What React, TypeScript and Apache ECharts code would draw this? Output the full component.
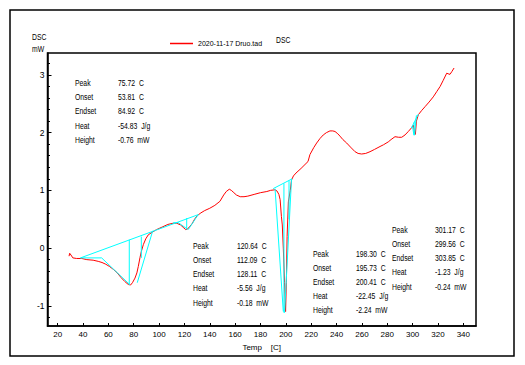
import React, { useEffect, useRef } from "react";
import * as echarts from "echarts";

const seriesName = "2020-11-17 Druo.tad";

const temps = [
  29.0, 29.5, 30.5, 32, 35, 39, 43, 48, 52, 55, 58, 61, 64, 67, 70, 73, 75.7, 77.5, 79, 81,
  82.5, 83.6, 85, 86, 87.6, 89.5, 91.5, 95, 98, 103, 107, 111, 114, 117, 119.5, 121, 122.5, 124, 126, 128,
  130, 133, 136, 140, 144, 148, 151, 153, 155.4, 157, 159, 161, 164, 167, 170, 175, 180, 185, 188, 191.4,
  193, 194.5, 195.5, 196.5, 197.2, 198, 199, 199.8, 200.4, 201, 202, 203.5, 204.5, 206, 208, 212, 217.5, 219, 222, 224.3,
  227, 229.5, 232, 234.8, 237, 238.8, 241, 242.7, 245, 248, 251, 254.6, 257, 259.8, 263, 266.4, 270, 274.3, 277, 280.8,
  283, 286.1, 289, 291.4, 294, 296.6, 299, 300.6, 301.5, 302.2, 303, 304.5, 307, 309.8, 313, 316.3, 319, 321.7, 324, 326.9,
  328, 329.5, 331, 332.7,
];
const dscValues = [
  -0.14, -0.09, -0.12, -0.17, -0.18, -0.18, -0.2, -0.21, -0.23, -0.25, -0.28, -0.32, -0.37, -0.43, -0.51, -0.58, -0.63, -0.64, -0.6, -0.52,
  -0.43, -0.32, -0.16, -0.06, 0.06, 0.16, 0.23, 0.28, 0.32, 0.37, 0.41, 0.43, 0.43, 0.4, 0.35, 0.32, 0.33, 0.37, 0.42, 0.5,
  0.56, 0.61, 0.65, 0.69, 0.74, 0.81, 0.92, 0.98, 1.02, 1.0, 0.96, 0.92, 0.89, 0.89, 0.9, 0.93, 0.96, 0.98, 1.0, 1.01,
  0.99, 0.93, 0.84, 0.55, 0.4, 0.0, -0.6, -1.1, -0.6, 0.2, 0.8, 1.0, 1.18, 1.25, 1.3, 1.38, 1.5, 1.62, 1.74, 1.82,
  1.9, 1.96, 2.0, 2.03, 2.03, 2.02, 1.98, 1.94, 1.88, 1.82, 1.75, 1.67, 1.64, 1.63, 1.64, 1.67, 1.71, 1.76, 1.79, 1.84,
  1.88, 1.93, 1.92, 1.92, 1.96, 2.02, 2.08, 2.13, 2.0, 1.97, 2.2, 2.31, 2.38, 2.45, 2.53, 2.62, 2.71, 2.8, 2.9, 3.03,
  3.02, 3.01, 3.06, 3.12,
];

// analysis construction lines: [t1, v1, t2, v2]
const analysisLines = [
  [38, -0.17, 131, 0.58],
  [38, -0.17, 54.7, -0.17],
  [54.7, -0.17, 77, -0.635],
  [76.5, 0.145, 76.5, -0.64],
  [82.8, -0.6, 95, 0.3],
  [86, 0.2, 86, -0.17],
  [111.2, 0.44, 115.2, 0.44],
  [115.2, 0.44, 122.3, 0.33],
  [121.8, 0.52, 121.8, 0.32],
  [123, 0.32, 130.9, 0.58],
  [190, 1.03, 205, 1.2],
  [191.5, 1.03, 198, -1.1],
  [198.5, 1.12, 198.5, -1.12],
  [199, -1.12, 204.5, 1.2],
  [202.5, 1.17, 202.5, 0.5],
  [299, 2.08, 304.5, 2.32],
  [301.2, 2.18, 301.2, 1.95],
  [300, 2.1, 301, 1.96],
  [301.5, 1.96, 303, 2.3],
];

const rowLabels = ["Peak", "Onset", "Endset", "Heat", "Height"];
const block1Values = ["75.72  C", "53.81  C", "84.92  C", "-54.83  J/g", "-0.76  mW"];
const block2Values = ["120.64  C", "112.09  C", "128.11  C", "-5.56  J/g", "-0.18  mW"];
const block3Values = ["198.30  C", "195.73  C", "200.41  C", "-22.45  J/g", "-2.24  mW"];
const block4Values = ["301.17  C", "299.56  C", "303.85  C", "-1.23  J/g", "-0.24  mW"];

const xTicks = [20, 40, 60, 80, 100, 120, 140, 160, 180, 200, 220, 240, 260, 280, 300, 320, 340];
const yTicks = [-1, 0, 1, 2, 3];
const yMinorTicks = [
  -1.2, -0.8, -0.6, -0.4, -0.2, 0.2, 0.4, 0.6, 0.8, 1.2, 1.4, 1.6, 1.8, 2.2, 2.4, 2.6, 2.8, 3.2,
];

const FONT = "'Liberation Sans', Arial, sans-serif";
const SX = 0.72;

export default function App() {
  const ref = useRef<HTMLDivElement>(null);
  useEffect(() => {
    if (!ref.current) return;
    const chart = echarts.init(ref.current, undefined, { renderer: "svg" });

    const txt = (text: string, x: number, y: number) => ({
      type: "text",
      x,
      y,
      scaleX: SX,
      silent: true,
      style: { text, font: `9.5px ${FONT}`, fill: "#000", verticalAlign: "middle" },
    });

    const blocks = [
      { lx: 75, vx: 118, y0: 83, dy: 14.3, vals: block1Values },
      { lx: 193, vx: 237, y0: 246, dy: 14.2, vals: block2Values },
      { lx: 313, vx: 356, y0: 254, dy: 14, vals: block3Values },
      { lx: 392, vx: 435, y0: 230, dy: 14.2, vals: block4Values },
    ];
    const graphics: any[] = [
      {
        type: "rect",
        shape: { x: 10, y: 10, width: 504, height: 346 },
        style: { fill: "none", stroke: "#000", lineWidth: 1.5 },
        silent: true,
      },
      txt("DSC", 32, 37),
      txt("mW", 32, 49),
      txt("DSC", 276, 40),
    ];
    blocks.forEach((b) => {
      rowLabels.forEach((lab, i) => {
        graphics.push(txt(lab, b.lx, b.y0 + i * b.dy));
        graphics.push(txt(b.vals[i], b.vx, b.y0 + i * b.dy));
      });
    });

    const cyanSeries = analysisLines.map((l) => ({
      type: "line",
      data: [
        [l[0], l[1]],
        [l[2], l[3]],
      ],
      symbol: "none",
      lineStyle: { color: "#00ffff", width: 1 },
      itemStyle: { color: "#00ffff" },
      silent: true,
      z: 3,
    }));

    chart.setOption({
      animation: false,
      backgroundColor: "#fff",
      textStyle: { fontFamily: FONT },
      grid: { left: 47.5, top: 53, right: 49, bottom: 39, show: true, borderColor: "#000", borderWidth: 1.5, backgroundColor: "transparent" },
      legend: {
        data: [seriesName],
        left: 165,
        top: 35,
        icon: "rect",
        itemWidth: 23,
        itemHeight: 1.5,
        itemGap: 5,
        textStyle: { fontSize: 7, fontFamily: FONT, color: "#000" },
      },
      xAxis: {
        type: "value",
        min: 12,
        max: 350,
        name: "Temp    [C]",
        nameLocation: "middle",
        nameGap: 17,
        nameTextStyle: { fontSize: 8, fontFamily: FONT, color: "#000" },
        axisLine: { show: true, onZero: false, lineStyle: { color: "#000", width: 1.5 } },
        axisTick: { show: true, inside: true, length: 3, customValues: xTicks, lineStyle: { color: "#000" } },
        axisLabel: { customValues: xTicks, fontSize: 8, fontFamily: FONT, color: "#000", margin: 4 },
        splitLine: { show: false },
      },
      yAxis: [
        {
          type: "value",
          min: -1.35,
          max: 3.38,
          axisLine: { show: true, onZero: false, lineStyle: { color: "#000", width: 1.5 } },
          axisTick: { show: true, inside: true, length: 4, customValues: yTicks, lineStyle: { color: "#000" } },
          axisLabel: { customValues: yTicks, fontSize: 8.5, fontFamily: FONT, color: "#000", margin: 3 },
          splitLine: { show: false },
        },
        {
          type: "value",
          min: -1.35,
          max: 3.38,
          position: "left",
          axisLine: { show: false, onZero: false },
          axisTick: { show: true, inside: true, length: 2.5, customValues: yMinorTicks, lineStyle: { color: "#000" } },
          axisLabel: { show: false },
          splitLine: { show: false },
        },
      ],
      series: [
        {
          name: seriesName,
          type: "line",
          data: temps.map((t, i) => [t, dscValues[i]]),
          symbol: "none",
          lineStyle: { color: "#ff0000", width: 1 },
          itemStyle: { color: "#ff0000" },
          z: 2,
        },
        ...cyanSeries,
      ],
      graphic: graphics,
    });
    return () => chart.dispose();
  }, []);
  return <div ref={ref} style={{ position: "fixed", left: 0, top: 0, width: 525, height: 365 }} />;
}
